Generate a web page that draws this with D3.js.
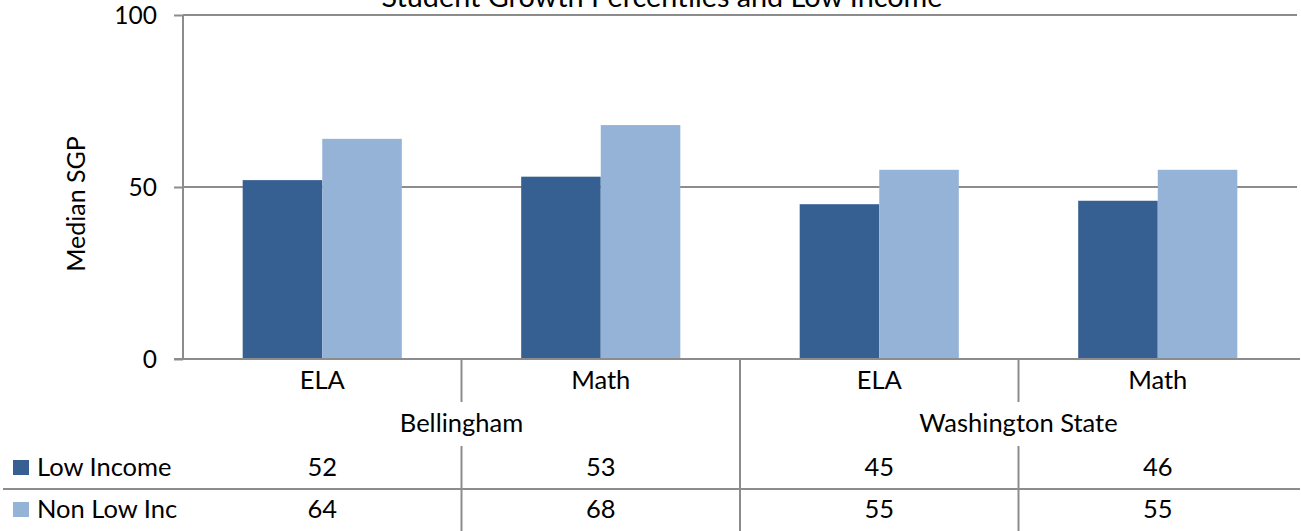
<!DOCTYPE html>
<html>
<head>
<meta charset="utf-8">
<script src="https://d3js.org/d3.v7.min.js"></script>
<style>
  html, body { margin: 0; padding: 0; background: #fff; }
  svg { display: block; }
  text { font-family: Lato, "Open Sans", sans-serif; fill: #000; }
</style>
</head>
<body>
<script>
const title = "Student Growth Percentiles and Low Income";
const yTitle = "Median SGP";
const subjects = ["ELA", "Math", "ELA", "Math"];
const groups = ["Bellingham", "Bellingham", "Washington State", "Washington State"];
const seriesNames = ["Low Income", "Non Low Inc"];
const lowIncome = [52, 53, 45, 46];
const nonLowInc = [64, 68, 55, 55];
const yTicks = [0, 50, 100];

const seriesValues = [lowIncome, nonLowInc];
const colors = ["#376092", "#95b3d7"];
const gridColor = "#8c8c8c";
const tableFont = 25.5;

const W = 1301, H = 531;
const plotL = 183, plotR = 1297, plotT = 15, plotB = 359;

const svg = d3.select("body").append("svg").attr("width", W).attr("height", H);
svg.append("rect").attr("width", W).attr("height", H).attr("fill", "#fff");

const idx = d3.range(subjects.length);
const x0 = d3.scaleBand().domain(idx).range([plotL, plotR]).padding(0);
const x1 = d3.scaleBand().domain(d3.range(seriesNames.length)).range([0, x0.bandwidth()]).paddingInner(0).paddingOuter(0.75);
const y = d3.scaleLinear().domain([0, 100]).range([plotB, plotT]);

// gridlines
svg.append("g").selectAll("line").data(yTicks.filter(d => d > 0)).join("line")
  .attr("x1", plotL).attr("x2", plotR)
  .attr("y1", d => y(d)).attr("y2", d => y(d))
  .attr("stroke", gridColor).attr("stroke-width", 2);

// bars
const cols = svg.append("g").selectAll("g").data(idx).join("g")
  .attr("transform", i => `translate(${x0(i)},0)`);
cols.selectAll("rect").data(i => seriesValues.map((s, k) => ({k, v: s[i]}))).join("rect")
  .attr("x", d => x1(d.k)).attr("width", x1.bandwidth())
  .attr("y", d => y(d.v)).attr("height", d => y(0) - y(d.v))
  .attr("fill", d => colors[d.k]);

// y axis
const yAxis = d3.axisLeft(y).tickValues(yTicks).tickSize(9).tickPadding(17);
const ga = svg.append("g").attr("transform", `translate(${plotL},0)`).call(yAxis);
ga.select(".domain").attr("stroke", gridColor).attr("stroke-width", 2).attr("d", `M0,${plotT}V${plotB}`);
ga.selectAll(".tick line").attr("stroke", gridColor).attr("stroke-width", 2);
ga.selectAll(".tick text").attr("font-family", "Lato, sans-serif").attr("font-size", 24.5).attr("fill", "#000").attr("dy", "0.36em");

// x axis line
svg.append("line").attr("x1", plotL - 9).attr("x2", 1300).attr("y1", plotB).attr("y2", plotB)
  .attr("stroke", gridColor).attr("stroke-width", 2);

// y title
svg.append("text").attr("transform", `translate(85,204) rotate(-90)`)
  .attr("text-anchor", "middle").attr("font-size", 25).text(yTitle);

// title
svg.append("text").attr("x", 662).attr("y", 7).attr("text-anchor", "middle")
  .attr("font-size", 28.8).text(title);

// data table
const catY = 389, groupY = 432, rowY = [476, 518];
svg.append("g").selectAll("text").data(idx).join("text")
  .attr("x", i => x0(i) + x0.bandwidth() / 2).attr("y", catY)
  .attr("text-anchor", "middle").attr("font-size", tableFont).text(i => subjects[i]);

const groupNames = Array.from(new Set(groups));
const groupSpans = groupNames.map(g => {
  const ii = idx.filter(i => groups[i] === g);
  return {name: g, a: x0(ii[0]), b: x0(ii[ii.length - 1]) + x0.bandwidth()};
});
svg.append("g").selectAll("text").data(groupSpans).join("text")
  .attr("x", d => (d.a + d.b) / 2).attr("y", groupY)
  .attr("text-anchor", "middle").attr("font-size", tableFont).text(d => d.name);

seriesValues.forEach((vals, k) => {
  svg.append("g").selectAll("text").data(idx).join("text")
    .attr("x", i => x0(i) + x0.bandwidth() / 2).attr("y", rowY[k])
    .attr("text-anchor", "middle").attr("font-size", tableFont).text(i => vals[i]);
  svg.append("rect").attr("x", 13).attr("y", rowY[k] - 16).attr("width", 16).attr("height", 15).attr("fill", colors[k]);
  svg.append("text").attr("x", 37).attr("y", rowY[k]).attr("font-size", tableFont).text(seriesNames[k]);
});

// table lines
const tl = svg.append("g").attr("stroke", gridColor).attr("stroke-width", 2);
tl.append("line").attr("x1", 3).attr("x2", 1300).attr("y1", 489).attr("y2", 489);
idx.slice(1).forEach(i => {
  const xx = x0(i);
  if (groups[i] !== groups[i - 1]) {
    tl.append("line").attr("x1", xx).attr("x2", xx).attr("y1", plotB).attr("y2", H);
  } else {
    tl.append("line").attr("x1", xx).attr("x2", xx).attr("y1", plotB).attr("y2", 402);
    tl.append("line").attr("x1", xx).attr("x2", xx).attr("y1", 446).attr("y2", H);
  }
});
</script>
</body>
</html>
